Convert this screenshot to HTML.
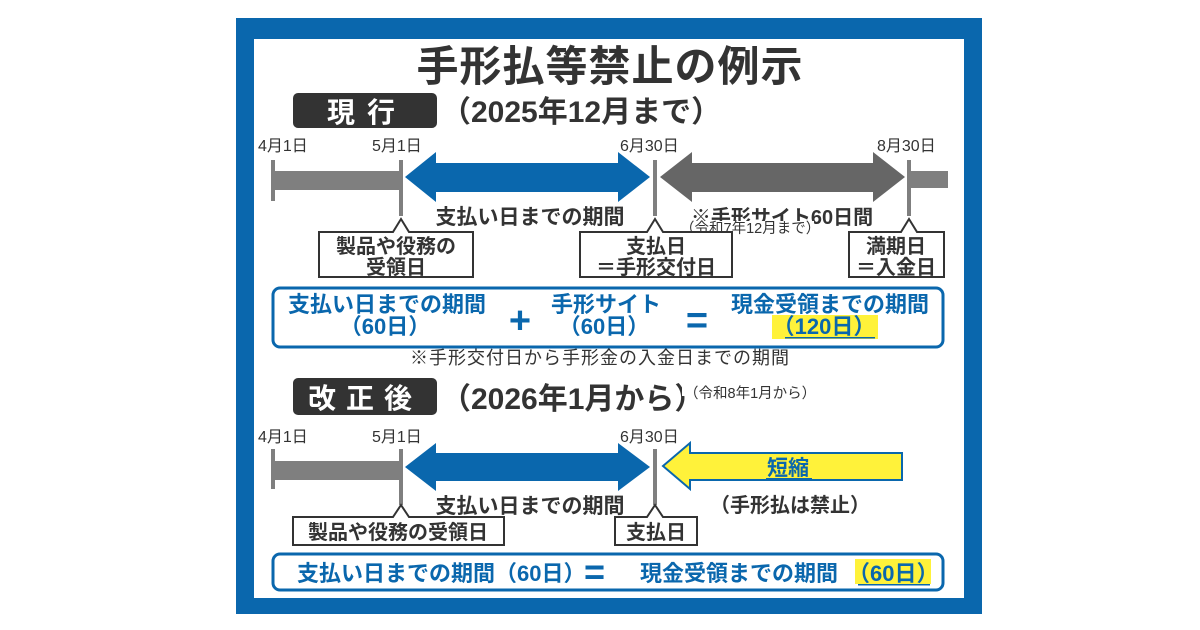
<!DOCTYPE html>
<html><head><meta charset="utf-8"><style>
html,body{margin:0;padding:0;background:#fff;width:1200px;height:630px;overflow:hidden}
svg{display:block}
text{font-family:"Liberation Sans","Noto Sans CJK JP",sans-serif}
.b{font-weight:bold}
</style></head><body>
<svg width="1200" height="630" viewBox="0 0 1200 630">
<rect x="236" y="18" width="746" height="596" fill="#0a67ad"/>
<rect x="254" y="39" width="710" height="559" fill="#fff"/>
<text x="610" y="81" text-anchor="middle" class="b" font-size="42" fill="#333" letter-spacing="1">手形払等禁止の例示</text>
<!-- 現行 -->
<rect x="293" y="93" width="144" height="35" rx="5" fill="#333"/>
<text x="367" y="122" text-anchor="middle" class="b" font-size="28" fill="#fff" letter-spacing="12">現行</text>
<text x="441" y="122" class="b" font-size="30" fill="#333">（2025年12月まで）</text>
<g font-size="16" fill="#333">
<text x="258" y="151">4月1日</text><text x="372" y="151">5月1日</text><text x="620" y="151">6月30日</text><text x="877" y="151">8月30日</text>
</g>
<g fill="#7f7f7f">
<rect x="271" y="160" width="4" height="41"/><rect x="275" y="171" width="125" height="19"/>
<rect x="399" y="160" width="4" height="56"/><rect x="653" y="160" width="4" height="56"/>
<rect x="907" y="160" width="4" height="56"/><rect x="911" y="171" width="37" height="17"/>
</g>
<polygon points="405,177 436,152 436,163 618,163 618,152 650,177 618,202 618,192 436,192 436,202" fill="#0a67ad"/>
<polygon points="660,177 692,152 692,163 873,163 873,152 905,177 873,202 873,192 692,192 692,202" fill="#666"/>
<text x="530" y="224" text-anchor="middle" class="b" font-size="21" fill="#333">支払い日までの期間</text>
<text x="782" y="224" text-anchor="middle" class="b" font-size="20" fill="#333">※手形サイト60日間</text>
<rect x="678" y="221" width="136" height="15" fill="#fff"/>
<text x="680" y="233" font-size="14.5" fill="#333">（令和7年12月まで）</text>
<g fill="#fff" stroke="#333" stroke-width="2">
<path d="M319,232 H393 L401,219 L409,232 H473 V277 H319 Z"/>
<path d="M580,232 H647 L655,219 L663,232 H732 V277 H580 Z"/>
<path d="M849,232 H901 L909,219 L917,232 H944 V277 H849 Z"/>
</g>
<g class="b" font-size="20" fill="#333" text-anchor="middle">
<text x="396" y="253">製品や役務の</text><text x="396" y="274">受領日</text>
<text x="656" y="253">支払日</text><text x="656" y="274">＝手形交付日</text>
<text x="896" y="253">満期日</text><text x="896" y="274">＝入金日</text>
</g>
<rect x="273" y="288" width="670" height="59" rx="7" fill="#fff" stroke="#0a67ad" stroke-width="3"/>
<rect x="772" y="315" width="106" height="24" fill="#fff23a"/>
<g class="b" font-size="22" fill="#0a67ad" text-anchor="middle">
<text x="387" y="312">支払い日までの期間</text><text x="385" y="334">（60日）</text>
<text x="606" y="312">手形サイト</text><text x="604" y="334">（60日）</text>
<text x="830" y="312">現金受領までの期間</text><text x="824" y="334">（120日）</text>
<text x="520" y="333" font-size="38">+</text><text x="697" y="333" font-size="38">=</text>
</g>
<rect x="785" y="337" width="90" height="1.5" fill="#0a67ad"/>
<text x="600" y="364" text-anchor="middle" font-size="18" fill="#333" letter-spacing="1">※手形交付日から手形金の入金日までの期間</text>
<!-- 改正後 -->
<rect x="293" y="378" width="144" height="37" rx="5" fill="#333"/>
<text x="365" y="408" text-anchor="middle" class="b" font-size="28" fill="#fff" letter-spacing="10">改正後</text>
<text x="441" y="409" class="b" font-size="30" fill="#333">（2026年1月から）</text>
<rect x="682" y="380" width="125" height="16" fill="#fff"/>
<text x="684" y="398" font-size="14.5" fill="#333">（令和8年1月から）</text>
<g font-size="16" fill="#333">
<text x="258" y="442">4月1日</text><text x="372" y="442">5月1日</text><text x="620" y="442">6月30日</text>
</g>
<g fill="#7f7f7f">
<rect x="271" y="449" width="4" height="40"/><rect x="275" y="461" width="125" height="19"/>
<rect x="399" y="449" width="4" height="56"/><rect x="653" y="449" width="4" height="56"/>
</g>
<polygon points="405,467 436,443 436,453 618,453 618,443 650,467 618,491 618,481 436,481 436,491" fill="#0a67ad"/>
<polygon points="663,466 690,443 690,453 902,453 902,480 690,480 690,489" fill="#fff23a" stroke="#0a67ad" stroke-width="2"/>
<text x="788" y="475" text-anchor="middle" class="b" font-size="21" fill="#0a67ad">短縮</text>
<rect x="766" y="478" width="46" height="1.5" fill="#0a67ad"/>
<text x="530" y="513" text-anchor="middle" class="b" font-size="21" fill="#333">支払い日までの期間</text>
<text x="790" y="512" text-anchor="middle" class="b" font-size="20" fill="#333">（手形払は禁止）</text>
<g fill="#fff" stroke="#333" stroke-width="2">
<path d="M293,517 H393 L401,505 L409,517 H504 V545 H293 Z"/>
<path d="M615,517 H647 L655,505 L663,517 H697 V545 H615 Z"/>
</g>
<text x="398" y="539" text-anchor="middle" class="b" font-size="20" fill="#333">製品や役務の受領日</text>
<text x="656" y="539" text-anchor="middle" class="b" font-size="20" fill="#333">支払日</text>
<rect x="273" y="554" width="670" height="36" rx="7" fill="#fff" stroke="#0a67ad" stroke-width="3"/>
<rect x="855" y="559" width="76" height="25" fill="#fff23a"/>
<g class="b" font-size="22" fill="#0a67ad">
<text x="297" y="581">支払い日までの期間（60日）</text>
<text x="584" y="584" font-size="36">=</text>
<text x="640" y="581">現金受領までの期間</text>
<text x="848" y="581">（60日）</text>
</g>
<rect x="858" y="584" width="72" height="1.5" fill="#0a67ad"/>
</svg>
</body></html>
